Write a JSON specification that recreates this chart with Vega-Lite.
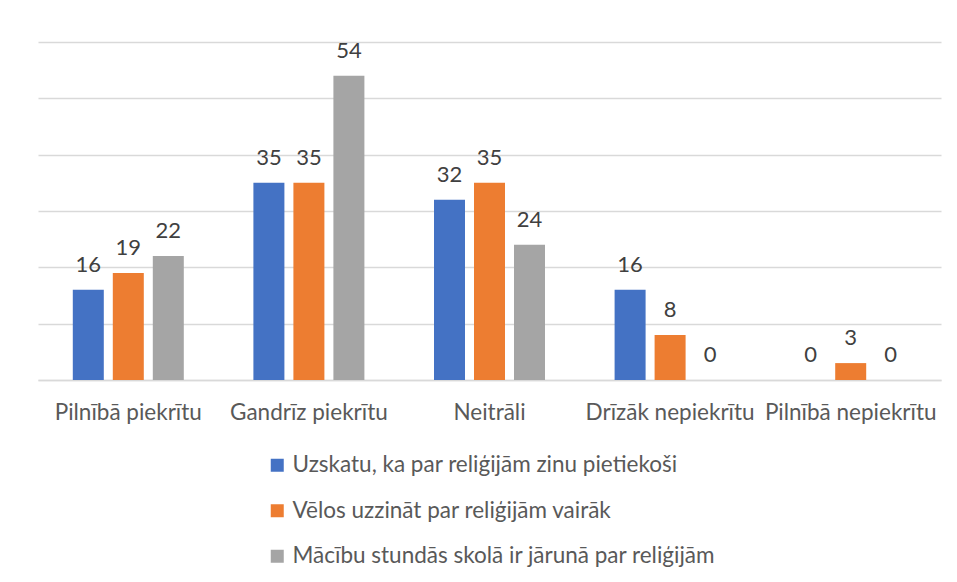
{
  "$schema": "https://vega.github.io/schema/vega-lite/v6.json",
  "width": 903,
  "height": 338,
  "autosize": "none",
  "padding": {"left": 38, "top": 42, "right": 16, "bottom": 202},
  "background": "white",
  "data": {
    "values": [
      {"cat": "Pilnībā piekrītu", "s": "Uzskatu, ka par reliģijām zinu pietiekoši", "v": 16},
      {"cat": "Pilnībā piekrītu", "s": "Vēlos uzzināt par reliģijām vairāk", "v": 19},
      {"cat": "Pilnībā piekrītu", "s": "Mācību stundās skolā ir jārunā par reliģijām", "v": 22},
      {"cat": "Gandrīz piekrītu", "s": "Uzskatu, ka par reliģijām zinu pietiekoši", "v": 35},
      {"cat": "Gandrīz piekrītu", "s": "Vēlos uzzināt par reliģijām vairāk", "v": 35},
      {"cat": "Gandrīz piekrītu", "s": "Mācību stundās skolā ir jārunā par reliģijām", "v": 54},
      {"cat": "Neitrāli", "s": "Uzskatu, ka par reliģijām zinu pietiekoši", "v": 32},
      {"cat": "Neitrāli", "s": "Vēlos uzzināt par reliģijām vairāk", "v": 35},
      {"cat": "Neitrāli", "s": "Mācību stundās skolā ir jārunā par reliģijām", "v": 24},
      {"cat": "Drīzāk nepiekrītu", "s": "Uzskatu, ka par reliģijām zinu pietiekoši", "v": 16},
      {"cat": "Drīzāk nepiekrītu", "s": "Vēlos uzzināt par reliģijām vairāk", "v": 8},
      {"cat": "Drīzāk nepiekrītu", "s": "Mācību stundās skolā ir jārunā par reliģijām", "v": 0},
      {"cat": "Pilnībā nepiekrītu", "s": "Uzskatu, ka par reliģijām zinu pietiekoši", "v": 0},
      {"cat": "Pilnībā nepiekrītu", "s": "Vēlos uzzināt par reliģijām vairāk", "v": 3},
      {"cat": "Pilnībā nepiekrītu", "s": "Mācību stundās skolā ir jārunā par reliģijām", "v": 0}
    ]
  },
  "encoding": {
    "x": {
      "field": "cat", "type": "nominal", "sort": null,
      "scale": {"paddingInner": 0, "paddingOuter": 0},
      "axis": {
        "title": null, "labelAngle": 0, "ticks": false,
        "domainColor": "#d9d9d9", "domainWidth": 1.5,
        "labelFont": "Lato", "labelFontSize": 22.5, "labelColor": "#595959",
        "labelPadding": 21, "labelLimit": 200
      }
    },
    "xOffset": {
      "field": "s", "type": "nominal",
      "sort": ["Uzskatu, ka par reliģijām zinu pietiekoši", "Vēlos uzzināt par reliģijām vairāk", "Mācību stundās skolā ir jārunā par reliģijām"],
      "scale": {"paddingInner": 0.225, "paddingOuter": 0.87}
    },
    "y": {
      "field": "v", "type": "quantitative",
      "scale": {"domain": [0, 60], "nice": false},
      "axis": {
        "title": null, "labels": false, "ticks": false, "domain": false,
        "values": [0, 10, 20, 30, 40, 50, 60],
        "gridColor": "#d9d9d9", "gridWidth": 1.5
      }
    }
  },
  "layer": [
    {
      "mark": {"type": "bar"},
      "encoding": {
        "color": {
          "field": "s", "type": "nominal",
          "sort": ["Uzskatu, ka par reliģijām zinu pietiekoši", "Vēlos uzzināt par reliģijām vairāk", "Mācību stundās skolā ir jārunā par reliģijām"],
          "scale": {
            "domain": ["Uzskatu, ka par reliģijām zinu pietiekoši", "Vēlos uzzināt par reliģijām vairāk", "Mācību stundās skolā ir jārunā par reliģijām"],
            "range": ["#4472C4", "#ED7D31", "#A5A5A5"]
          },
          "legend": {
            "title": null, "orient": "none", "direction": "vertical",
            "legendX": 228, "legendY": 412,
            "symbolType": "square", "symbolSize": 169, "symbolStrokeWidth": 0,
            "labelFont": "Lato", "labelFontSize": 22.5, "labelColor": "#595959",
            "labelOffset": 4, "rowPadding": 22.5, "labelLimit": 700
          }
        }
      }
    },
    {
      "mark": {"type": "text", "font": "Lato", "fontSize": 22, "color": "#404040", "baseline": "alphabetic", "dy": -18},
      "encoding": {"text": {"field": "v", "type": "quantitative"}}
    }
  ],
  "config": {"view": {"stroke": null}}
}
